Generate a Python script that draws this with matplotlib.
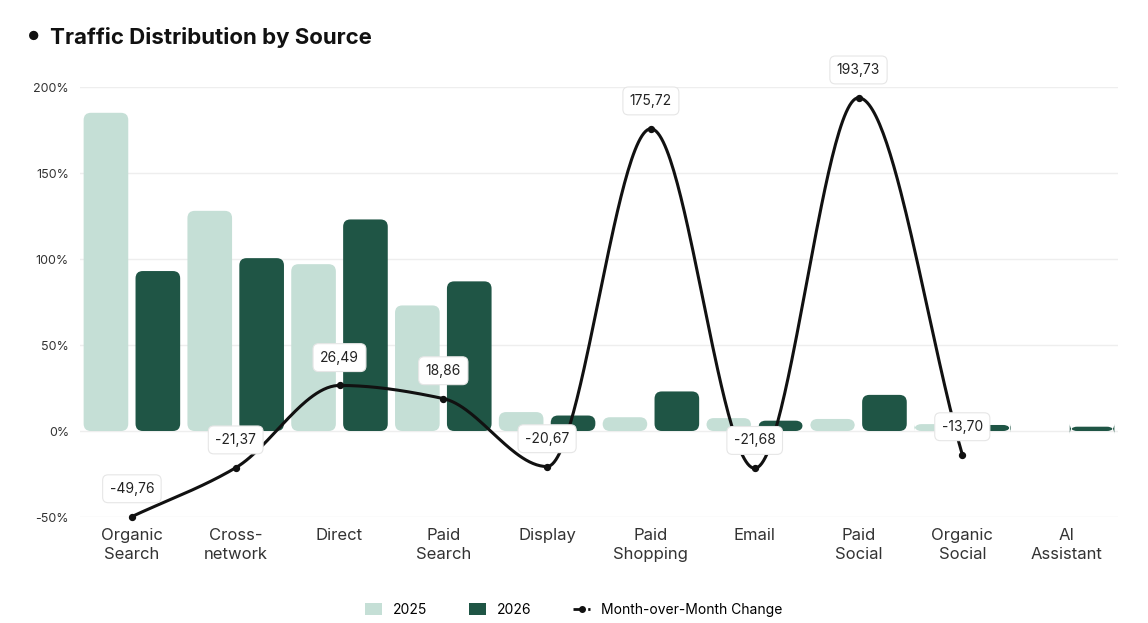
import numpy as np
import matplotlib.pyplot as plt
from matplotlib.patches import FancyBboxPatch
from matplotlib.lines import Line2D
from matplotlib.patches import Patch

categories = ["Organic\nSearch", "Cross-\nnetwork", "Direct", "Paid\nSearch", "Display",
              "Paid\nShopping", "Email", "Paid\nSocial", "Organic\nSocial", "AI\nAssistant"]
vals_2025 = [185, 128, 97, 73, 11, 8, 7.5, 7, 4, 0]
vals_2026 = [93, 100.5, 123, 87, 9, 23, 6, 21, 3.5, 2.5]
mom = [-49.76, -21.37, 26.49, 18.86, -20.67, 175.72, -21.68, 193.73, -13.70]

light = "#c5dfd6"
dark = "#1f5545"

plt.rcParams['font.family'] = ['Inter', 'DejaVu Sans']
fig = plt.figure(figsize=(11.48, 6.23), dpi=100)
ax = fig.add_axes([80 / 1148, 106 / 623, 1038 / 1148, 430 / 623])
ax.set_xlim(-0.5, 9.5)
ax.set_ylim(-50, 200)

x = np.arange(len(categories))
w = 0.43
aspect = (250 / 430) / (10 / 1038)
for xs, vals, col in [(x - 0.25, vals_2025, light), (x + 0.25, vals_2026, dark)]:
    for xi, v in zip(xs, vals):
        if v <= 0:
            continue
        p = FancyBboxPatch((xi - w / 2, 0), w, v, boxstyle="round,pad=0,rounding_size=0.07",
                           mutation_aspect=aspect, fc=col, ec="none", zorder=2)
        ax.add_patch(p)


# monotone cubic (Fritsch-Carlson) for the smooth line
def pchip(xk, yk, n=60):
    xk = np.asarray(xk, float); yk = np.asarray(yk, float)
    h = np.diff(xk); d = np.diff(yk) / h
    m = np.zeros_like(yk)
    m[0], m[-1] = d[0], d[-1]
    for i in range(1, len(yk) - 1):
        if d[i - 1] * d[i] > 0:
            m[i] = 2 / (1 / d[i - 1] + 1 / d[i])
    xs, ys = [], []
    for i in range(len(h)):
        t = np.linspace(0, 1, n)
        h00 = 2 * t**3 - 3 * t**2 + 1; h10 = t**3 - 2 * t**2 + t
        h01 = -2 * t**3 + 3 * t**2; h11 = t**3 - t**2
        xs.append(xk[i] + t * h[i])
        ys.append(h00 * yk[i] + h10 * h[i] * m[i] + h01 * yk[i + 1] + h11 * h[i] * m[i + 1])
    return np.concatenate(xs), np.concatenate(ys)


lx = x[:len(mom)]
sx, sy = pchip(lx, mom)
ax.plot(sx, sy, color="#111111", lw=2.2, zorder=4, clip_on=False)
ax.scatter(lx, mom, s=18, color="#111111", zorder=5, clip_on=False)
for xi, v in zip(lx, mom):
    ax.annotate(f"{v:.2f}".replace(".", ","), (xi, v), xytext=(0, 15), textcoords="offset points",
                ha="center", va="bottom", fontsize=10, color="#222222", zorder=6,
                annotation_clip=False,
                bbox=dict(boxstyle="round,pad=0.5,rounding_size=0.4", fc="white", ec="#e6e6e6", lw=0.8))

ax.set_yticks([-50, 0, 50, 100, 150, 200])
ax.set_yticklabels([f"{t}%" for t in [-50, 0, 50, 100, 150, 200]], fontsize=9, color="#333333")
ax.set_xticks(x)
ax.set_xticklabels(categories, fontsize=12, color="#333333", linespacing=1.3)
ax.tick_params(length=0, pad=8)
ax.grid(axis="y", color="#eeeeee", lw=1, zorder=0)
ax.set_axisbelow(True)
for s in ax.spines.values():
    s.set_visible(False)

fig.text(28 / 1148, 1 - 37 / 623, "\u25CF", fontsize=9, va="center", color="#111111")
fig.text(50 / 1148, 1 - 37 / 623, "Traffic Distribution by Source", fontsize=16, fontweight="bold",
         va="center", color="#111111")

handles = [Patch(fc=light, ec="none", label="2025"), Patch(fc=dark, ec="none", label="2026"),
           Line2D([0], [0], color="#111111", lw=2, ls="--", marker="o", ms=4, label="Month-over-Month Change")]
fig.legend(handles=handles, loc="center", bbox_to_anchor=(0.5, 1 - 610 / 623), ncol=3, frameon=False,
           fontsize=10, handlelength=1.2, handleheight=1.0, columnspacing=3)

fig.savefig("out.png", dpi=100)
